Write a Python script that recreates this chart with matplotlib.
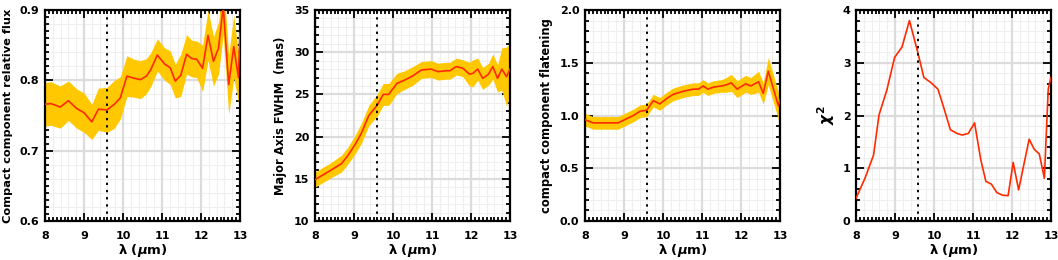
import numpy as np
import matplotlib
matplotlib.use('Agg')
import matplotlib.pyplot as plt
from matplotlib.ticker import MultipleLocator, FormatStrFormatter

plt.rcParams['font.family'] = ['DejaVu Sans']
plt.rcParams['font.weight'] = 'bold'
plt.rcParams['mathtext.fontset'] = 'dejavusans'
plt.rcParams['mathtext.default'] = 'it'

# panel 1 : compact component relative flux
wl1 = [8.0, 8.15, 8.39, 8.60, 8.81, 9.0, 9.2, 9.37, 9.59, 9.78, 9.93, 10.10, 10.28,
       10.45, 10.60, 10.71, 10.88, 11.07, 11.21, 11.34, 11.48, 11.63, 11.76, 11.89,
       12.04, 12.18, 12.32, 12.45, 12.57, 12.71, 12.84, 12.96, 13.0]
flux = [0.766, 0.767, 0.762, 0.771, 0.760, 0.754, 0.741, 0.759, 0.758, 0.766, 0.775,
        0.806, 0.803, 0.801, 0.806, 0.815, 0.836, 0.823, 0.818, 0.799, 0.807, 0.837,
        0.831, 0.830, 0.817, 0.864, 0.827, 0.846, 0.905, 0.794, 0.848, 0.804, 0.867]
flux_err = [0.031, 0.031, 0.030, 0.028, 0.028, 0.028, 0.025, 0.030, 0.032, 0.034, 0.030,
            0.029, 0.027, 0.027, 0.025, 0.024, 0.023, 0.023, 0.024, 0.024, 0.030, 0.028,
            0.026, 0.026, 0.033, 0.036, 0.035, 0.037, 0.040, 0.042, 0.045, 0.035, 0.035]

# panel 2 : major axis FWHM
wl2 = [8.0, 8.40, 8.68, 8.85, 9.02, 9.19, 9.38, 9.59, 9.75, 9.89, 10.1, 10.3, 10.51,
       10.73, 10.98, 11.15, 11.36, 11.46, 11.62, 11.79, 11.96, 12.05, 12.17, 12.3,
       12.45, 12.56, 12.68, 12.79, 12.91, 13.0]
fwhm = [14.9, 16.0, 16.8, 17.8, 19.0, 20.4, 22.5, 23.7, 25.0, 25.0, 26.3, 26.7, 27.2,
        27.9, 28.0, 27.7, 27.8, 27.8, 28.3, 28.1, 27.4, 27.5, 28.0, 26.9, 27.4, 28.3,
        26.9, 28.0, 27.1, 28.0]
fwhm_err = [0.9, 0.9, 1.0, 1.0, 1.1, 1.2, 1.2, 1.3, 1.3, 1.3, 1.2, 1.1, 1.1, 1.0, 1.0,
            1.0, 1.0, 1.0, 1.0, 1.0, 1.4, 1.6, 1.3, 1.3, 1.3, 1.5, 1.6, 2.5, 3.5, 3.0]

# panel 3 : compact component flattening
wl3 = [8.0, 8.21, 8.5, 8.85, 9.07, 9.24, 9.41, 9.58, 9.75, 9.92, 10.09, 10.26, 10.48,
       10.65, 10.78, 10.91, 11.03, 11.15, 11.3, 11.5, 11.62, 11.75, 11.9, 12.03, 12.12,
       12.25, 12.45, 12.57, 12.7, 12.96, 13.0]
flat = [0.96, 0.93, 0.93, 0.93, 0.97, 1.0, 1.04, 1.05, 1.14, 1.11, 1.16, 1.2, 1.226,
        1.24, 1.25, 1.25, 1.28, 1.25, 1.27, 1.28, 1.29, 1.31, 1.25, 1.28, 1.30, 1.28,
        1.32, 1.21, 1.42, 1.09, 1.15]
flat_err = [0.06, 0.06, 0.06, 0.06, 0.06, 0.06, 0.06, 0.06, 0.06, 0.06, 0.06, 0.06,
            0.06, 0.06, 0.06, 0.06, 0.06, 0.06, 0.06, 0.06, 0.07, 0.08, 0.08, 0.08,
            0.08, 0.08, 0.10, 0.10, 0.13, 0.13, 0.12]

# panel 4 : chi2
wl4 = [8.0, 8.23, 8.45, 8.59, 8.79, 8.99, 9.18, 9.37, 9.59, 9.74, 9.91, 10.1, 10.25,
       10.42, 10.59, 10.72, 10.88, 11.04, 11.2, 11.33, 11.47, 11.61, 11.75, 11.9, 12.03,
       12.17, 12.31, 12.44, 12.57, 12.7, 12.83, 12.93, 13.0]
chi2 = [0.43, 0.81, 1.25, 2.01, 2.48, 3.10, 3.30, 3.80, 3.18, 2.72, 2.63, 2.50, 2.15,
        1.73, 1.66, 1.63, 1.66, 1.86, 1.16, 0.75, 0.70, 0.54, 0.49, 0.48, 1.11, 0.59,
        1.09, 1.55, 1.36, 1.27, 0.81, 2.51, 2.72]

ylabels = ['Compact component relative flux', 'Major Axis FWHM  (mas)',
           'compact component flatening', r'$\chi^2$']
ylab_size = [8.2, 8.3, 8.3, 11]
ylab_right = [13, 287, 553, 837]
ylims = [(0.6, 0.9), (10, 35), (0.0, 2.0), (0, 4)]
ymajor = [0.1, 5, 0.5, 1]
yminor = [0.01, 1, 0.1, 0.2]
ygrid = [0.02, 1, 0.1, 0.2]
yfmt = ['%.1f', '%d', '%.1f', '%d']
lefts = [45, 315, 585, 856]

band_col = '#FFC800'
line_col = '#FF2A00'

fig = plt.figure(figsize=(10.58, 2.6), dpi=100)
series = [(wl1, flux, flux_err), (wl2, fwhm, fwhm_err), (wl3, flat, flat_err), (wl4, chi2, None)]

for i, (wl, val, err) in enumerate(series):
    ax = fig.add_axes([lefts[i] / 1058., 1 - 221 / 260., 195 / 1058., 211 / 260.])
    wl = np.array(wl); val = np.array(val)
    y0, y1 = ylims[i]
    # grid
    for gx in np.arange(8.0, 13.001, 0.2):
        ax.axvline(gx, color='#efefef', lw=0.8, zorder=0)
    for gy in np.arange(y0, y1 + 1e-6, ygrid[i]):
        ax.axhline(gy, color='#efefef', lw=0.8, zorder=0)
    for gx in range(8, 14):
        ax.axvline(gx, color='#dcdcdc', lw=1.6, zorder=0)
    for gy in np.arange(y0, y1 + 1e-6, ymajor[i]):
        ax.axhline(gy, color='#dcdcdc', lw=1.6, zorder=0)
    if err is not None:
        err = np.array(err)
        ax.fill_between(wl, val - err, val + err, color=band_col, lw=0, zorder=2)
    ax.plot(wl, val, color=line_col, lw=1.2, zorder=3)
    ax.axvline(9.6, color='black', ls=(0, (1.2, 2.5)), lw=1.4, zorder=4)
    ax.set_xlim(8, 13)
    ax.set_ylim(y0, y1)
    ax.xaxis.set_major_locator(MultipleLocator(1))
    ax.xaxis.set_minor_locator(MultipleLocator(0.1))
    ax.yaxis.set_major_locator(MultipleLocator(ymajor[i]))
    ax.yaxis.set_minor_locator(MultipleLocator(yminor[i]))
    ax.yaxis.set_major_formatter(FormatStrFormatter(yfmt[i]))
    ax.tick_params(which='both', direction='in', top=True, right=True, width=1.3,
                   labelsize=8)
    ax.tick_params(axis='x', which='major', pad=7)
    ax.tick_params(axis='y', which='major', pad=4)
    ax.tick_params(which='major', length=6)
    ax.tick_params(which='minor', length=3)
    for s in ax.spines.values():
        s.set_linewidth(1.6)
    for lab in ax.get_xticklabels() + ax.get_yticklabels():
        lab.set_fontweight('bold')
    ax.set_xlabel(r'λ ($\mu$m)', fontsize=9.5, fontweight='bold', labelpad=1)
    ax.set_ylabel(ylabels[i], fontsize=ylab_size[i], fontweight='bold')
    ax.yaxis.set_label_coords((ylab_right[i] - lefts[i]) / 195., 0.5)

fig.savefig('out.png', dpi=100)
